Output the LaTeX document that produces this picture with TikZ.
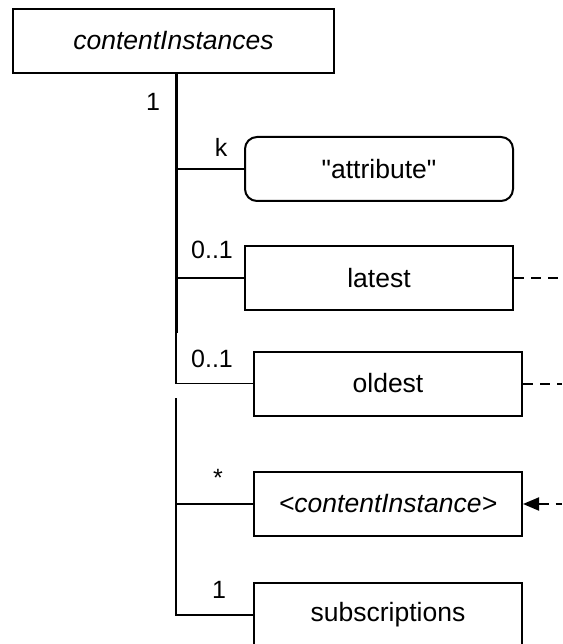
\documentclass[tikz,border=0pt]{standalone}
\usepackage{fontspec}
\setmainfont{Liberation Sans}[Ligatures=TeXOff]
\usetikzlibrary{arrows.meta}
\begin{document}
\begin{tikzpicture}[x=1pt,y=-1pt,
  box/.style={draw, line width=2pt, minimum width=268pt, minimum height=64pt,
    inner sep=0pt, font=\fontsize{26.5}{32}\selectfont},
  mult/.style={font=\fontsize{25}{30}\selectfont, inner sep=0pt, anchor=base},
  link/.style={line width=1.5pt},
  trunk/.style={line width=3pt},
  ref/.style={line width=2pt, dash pattern=on 10pt off 7pt},
]
\useasboundingbox (0,0) rectangle (562,644);

% resource and its children
\node[box, minimum width=321pt] (root) at (173.5,41) {\itshape contentInstances};
\node[box, rounded corners=12pt] (attr) at (379,169) {"attribute"};
\node[box] (latest) at (379,278) {latest};
\node[box] (oldest) at (388,383.5) {oldest};
\node[box] (ci) at (388,504) {\itshape <contentInstance>};
\node[box] (subs) at (388,615) {subscriptions};

% trunk positions and right border
\coordinate (tbreak) at (176,333);
\coordinate (t2top) at (176,398);
\coordinate (edge) at (562,0);

% containment lines
\draw[trunk] (root.south -| tbreak) -- (tbreak);
\draw[link] (tbreak) -- (tbreak |- oldest.west) -- (oldest.west);
\draw[link] (attr.west -| tbreak) -- (attr.west);
\draw[link] (latest.west -| tbreak) -- (latest.west);
\draw[link] (t2top) -- (t2top |- subs.west) -- (subs.west);
\draw[link] (ci.west -| t2top) -- (ci.west);

% references leaving the frame
\draw[ref] (latest.east) -- (latest.east -| edge);
\draw[ref] (oldest.east) -- (oldest.east -| edge);
\draw[ref, {Triangle[length=16pt,width=13pt]}-] (ci.east) -- (ci.east -| edge);

% multiplicities
\node[mult] (m0) at (153,111) {1};
\node[mult] (m1) at (221,157) {k};
\node[mult] (m2) at (212,258) {0..1};
\node[mult] (m3) at (212,367) {0..1};
\node[mult] (m4) at (218,486) {*};
\node[mult] (m5) at (219,598) {1};
\end{tikzpicture}
\end{document}
